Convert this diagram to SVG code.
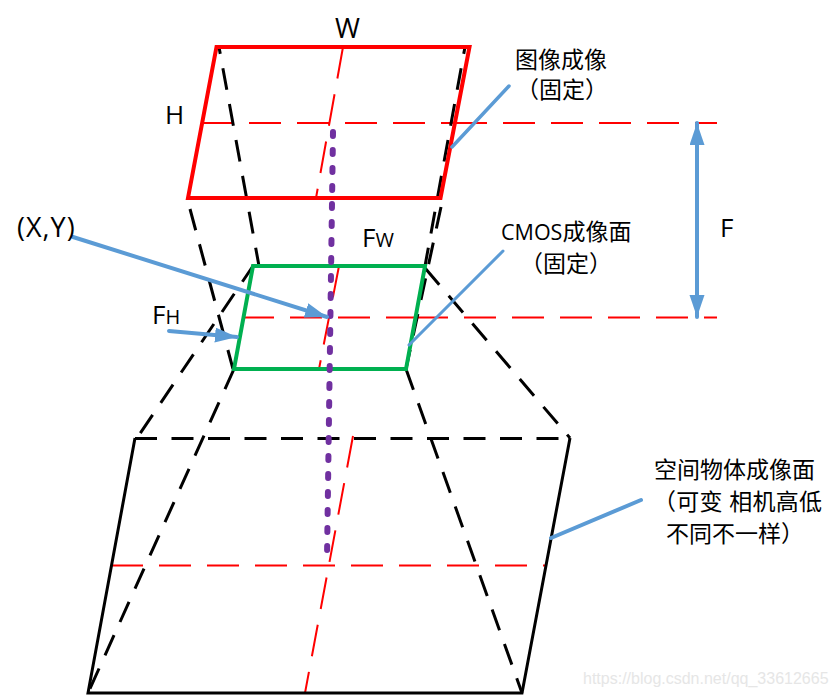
<svg xmlns="http://www.w3.org/2000/svg" width="836" height="696" viewBox="0 0 836 696">
<style>
.lat{font-family:"Open Sans","Liberation Sans",sans-serif;fill:#000}
.cjk{font-family:"Open Sans","Noto Sans CJK SC",sans-serif;font-size:23px;fill:#000}
.rd{fill:none;stroke:#ff0000;stroke-width:2;stroke-dasharray:32 16}
.bd{fill:none;stroke:#000;stroke-width:3;stroke-dasharray:22 14.500}
.blue{fill:none;stroke:#5b9bd5;stroke-linecap:round}
</style>
<defs>
<marker id="ah" markerUnits="userSpaceOnUse" markerWidth="24" markerHeight="16" refX="22" refY="7.500" orient="auto-start-reverse"><path d="M0 0L22 7.500L0 15Z" fill="#5b9bd5"/></marker>
</defs>
<rect width="836" height="696" fill="#fff"/>
<g id="connectors">
<path class="rd" d="M201 123H473"/>
<path class="rd" d="M455 123H717"/>
<path class="rd" d="M343 47L316 198"/>
<path class="rd" d="M242 317.500H433"/>
<path class="rd" d="M416 317.500H717"/>
<path class="rd" d="M339 266L319 369"/>
<path class="rd" d="M111 565.500H545"/>
<path class="rd" d="M353 436L305 693"/>
<path class="bd" stroke-dashoffset="15" d="M219 47L259 266"/>
<path class="bd" d="M190 209L233 369"/>
<path class="bd" stroke-dashoffset="15" d="M465 47L425 266"/>
<path class="bd" d="M441 207L406 369"/>
<path class="bd" stroke-dashoffset="3" d="M253 266L137 438"/>
<path class="bd" d="M234 369L88 693"/>
<path class="bd" d="M425 268L570 438"/>
<path class="bd" d="M406 369L522 693"/>
<path class="bd" d="M135 438.500H570"/>
</g>
<g id="image-plane"><path d="M216.500 47H469.500L440.500 198H188Z" fill="none" stroke="#ff0000" stroke-width="4"/></g>
<g id="cmos-plane"><path d="M253 266H425L406 369H234Z" fill="none" stroke="#00b050" stroke-width="4"/></g>
<g id="object-plane"><path d="M135 438L88 693H522L570 438" fill="none" stroke="#000" stroke-width="3"/></g>
<g id="axis"><path d="M333 132L327 558" fill="none" stroke="#7030a0" stroke-width="6" stroke-linecap="round" stroke-dasharray="4 14"/></g>
<g id="leaders">
<path class="blue" stroke-width="4" d="M73 237L327 317" marker-end="url(#ah)"/>
<path class="blue" stroke-width="4" d="M169 331L237 337" marker-end="url(#ah)"/>
<path class="blue" stroke-width="3.500" d="M509 86L452 147"/>
<path class="blue" stroke-width="3" d="M503 251L409 345"/>
<path class="blue" stroke-width="4" d="M641 500L551 538"/>
<path class="blue" stroke-width="4" d="M697 123V317" marker-start="url(#ah)" marker-end="url(#ah)"/>
</g>
<g id="label-w"><text class="lat" x="335" y="38" font-size="27">W</text></g>
<g id="label-h"><text class="lat" x="165" y="124" font-size="26">H</text></g>
<g id="label-f"><text class="lat" x="720" y="237" font-size="26">F</text></g>
<g id="label-xy"><text class="lat" x="17" y="237" font-size="27" letter-spacing="1">(X,Y)</text></g>
<g id="label-fw"><text class="lat" x="362" y="247" font-size="26">F<tspan font-size="20">W</tspan></text></g>
<g id="label-fh"><text class="lat" x="152" y="324" font-size="26">F<tspan font-size="20">H</tspan></text></g>
<g id="label-image"><text class="cjk" x="515" y="68">图像成像</text><text class="cjk" x="516" y="98">（固定）</text></g>
<g id="label-cmos"><text class="cjk" x="501" y="240"><tspan font-size="21.500">CMOS</tspan>成像面</text><text class="cjk" x="520" y="272">（固定）</text></g>
<g id="label-object"><text class="cjk" x="654" y="478">空间物体成像面</text><text class="cjk" x="653" y="510" letter-spacing="0.300">（可变 相机高低</text><text class="cjk" x="666" y="542">不同不一样）</text></g>
<text x="583" y="684" font-family="Liberation Sans,sans-serif" font-size="16" fill="#e6e6e6">https://blog.csdn.net/qq_33612665</text>
</svg>
